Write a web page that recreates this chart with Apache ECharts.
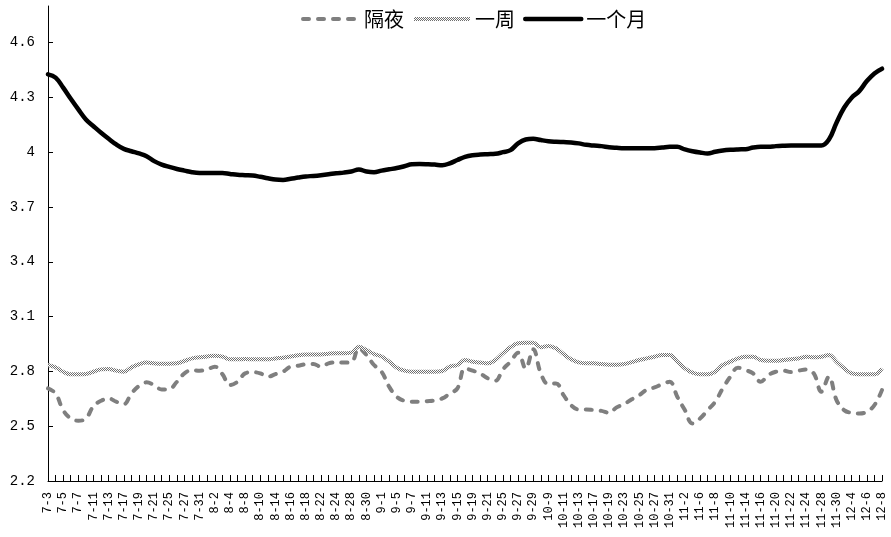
<!DOCTYPE html>
<html>
<head>
<meta charset="utf-8">
<script src="https://cdn.jsdelivr.net/npm/echarts@6/dist/echarts.min.js"></script>
<style>html,body{margin:0;padding:0;background:#fff}#c{width:891px;height:537px}</style>
</head>
<body>
<div id="c"></div>
<script>
const dates = [
 '7-3','7-4','7-5','7-6','7-7','7-10','7-11','7-12','7-13','7-14','7-17','7-18','7-19','7-20','7-21','7-24','7-25','7-26','7-27','7-28','7-31',
 '8-1','8-2','8-3','8-4','8-7','8-8','8-9','8-10','8-11','8-14','8-15','8-16','8-17','8-18','8-21','8-22','8-23','8-24','8-25','8-28','8-29','8-30','8-31',
 '9-1','9-4','9-5','9-6','9-7','9-8','9-11','9-12','9-13','9-14','9-15','9-18','9-19','9-20','9-21','9-22','9-25','9-26','9-27','9-28','9-29','9-30',
 '10-9','10-10','10-11','10-12','10-13','10-16','10-17','10-18','10-19','10-20','10-23','10-24','10-25','10-26','10-27','10-30','10-31',
 '11-1','11-2','11-3','11-6','11-7','11-8','11-9','11-10','11-13','11-14','11-15','11-16','11-17','11-20','11-21','11-22','11-23','11-24','11-27','11-28','11-29','11-30',
 '12-1','12-4','12-5','12-6','12-7','12-8'
];
const overnight = [
 2.707,2.679,2.588,2.542,2.530,2.542,2.610,2.639,2.652,2.634,
 2.621,2.679,2.720,2.740,2.725,2.701,2.703,2.743,2.789,2.807,
 2.804,2.811,2.826,2.785,2.725,2.743,2.789,2.796,2.789,2.771,
 2.785,2.798,2.826,2.831,2.839,2.840,2.826,2.844,2.850,2.848,
 2.850,2.926,2.890,2.835,2.798,2.716,2.661,2.639,2.634,2.634,
 2.637,2.641,2.652,2.679,2.707,2.816,2.804,2.789,2.762,2.749,
 2.811,2.853,2.902,2.816,2.921,2.789,2.730,2.734,2.670,2.615,
 2.592,2.592,2.588,2.584,2.573,2.603,2.621,2.647,2.670,2.701,
 2.712,2.730,2.743,2.661,2.588,2.515,2.542,2.588,2.634,2.707,
 2.771,2.820,2.807,2.789,2.743,2.780,2.798,2.804,2.796,2.804,
 2.811,2.789,2.689,2.771,2.643,2.588,2.573,2.570,2.579,2.615,2.698
];
const oneWeek = [
 2.835,2.822,2.798,2.784,2.784,2.786,2.798,2.811,2.813,2.804,
 2.798,2.822,2.839,2.848,2.844,2.842,2.842,2.844,2.857,2.871,
 2.877,2.882,2.886,2.881,2.866,2.866,2.868,2.866,2.866,2.866,
 2.871,2.875,2.881,2.888,2.892,2.893,2.893,2.897,2.899,2.899,
 2.903,2.935,2.917,2.895,2.881,2.853,2.820,2.804,2.798,2.798,
 2.798,2.798,2.802,2.826,2.835,2.862,2.853,2.849,2.844,2.862,
 2.899,2.932,2.954,2.957,2.957,2.932,2.939,2.926,2.895,2.866,
 2.849,2.844,2.844,2.840,2.837,2.837,2.840,2.851,2.862,2.871,
 2.880,2.890,2.890,2.853,2.817,2.793,2.784,2.784,2.798,2.835,
 2.853,2.871,2.880,2.880,2.862,2.858,2.858,2.862,2.866,2.871,
 2.880,2.877,2.880,2.890,2.853,2.817,2.789,2.784,2.784,2.784,2.817
];
const oneMonth = [
 4.426,4.408,4.353,4.292,4.234,4.179,4.142,4.106,4.073,4.042,
 4.018,4.005,3.993,3.978,3.951,3.932,3.919,3.908,3.899,3.890,
 3.886,3.886,3.886,3.886,3.881,3.876,3.874,3.872,3.865,3.857,
 3.850,3.848,3.854,3.861,3.867,3.870,3.874,3.879,3.885,3.888,
 3.894,3.905,3.894,3.890,3.899,3.906,3.913,3.923,3.934,3.935,
 3.934,3.932,3.928,3.939,3.957,3.974,3.983,3.987,3.989,3.991,
 4.000,4.011,4.048,4.069,4.073,4.066,4.060,4.057,4.055,4.053,
 4.048,4.040,4.036,4.033,4.027,4.024,4.022,4.022,4.022,4.022,
 4.022,4.025,4.029,4.029,4.015,4.005,3.998,3.993,4.002,4.009,
 4.013,4.015,4.016,4.025,4.029,4.029,4.033,4.035,4.036,4.036,
 4.036,4.036,4.036,4.069,4.161,4.243,4.298,4.334,4.389,4.431,4.457
];
const seriesNames = ['隔夜','一周','一个月'];

const pc = document.createElement('canvas');
pc.width = 2; pc.height = 2;
const px = pc.getContext('2d');
px.fillStyle = '#ffffff'; px.fillRect(0,0,2,2);
px.fillStyle = '#6e6e6e'; px.fillRect(0,0,1,1); px.fillRect(1,1,1,1);
const hatch = {image: pc, repeat: 'repeat'};

const styles = [
  {color: '#7f7f7f', width: 4, type: [6, 9], cap: 'round'},
  {color: hatch, width: 4, type: 'solid', cap: 'butt'},
  {color: '#000', width: 4.5, type: 'solid', cap: 'round'}
];

const chart = echarts.init(document.getElementById('c'), null, {renderer: 'canvas'});
chart.setOption({
  animation: false,
  backgroundColor: '#fff',
  grid: {left: 48, right: 9, top: 6, bottom: 56, containLabel: false},
  legend: {
    left: 296, top: 4,
    itemWidth: 56, itemHeight: 14, itemGap: 8,
    textStyle: {fontFamily: 'Noto Sans CJK SC', fontSize: 20, color: '#000'},
    data: seriesNames.map((n, i) => ({
      name: n,
      itemStyle: {opacity: 0},
      lineStyle: Object.assign({}, styles[i])
    }))
  },
  xAxis: {
    type: 'category', data: dates, boundaryGap: false,
    axisLine: {lineStyle: {color: '#000', width: 1}},
    axisTick: {inside: true, length: 6, interval: 0, lineStyle: {color: '#000'}},
    axisLabel: {interval: 1, rotate: 90, margin: 11, fontFamily: 'Liberation Mono', fontSize: 12, color: '#000'},
    splitLine: {show: false}
  },
  yAxis: {
    type: 'value', min: 2.2, max: 4.8, interval: 0.3,
    axisLine: {show: true, lineStyle: {color: '#000', width: 1}},
    axisTick: {show: true, inside: true, length: 5, lineStyle: {color: '#000'}},
    axisLabel: {showMaxLabel: false, margin: 13, fontFamily: 'Liberation Mono', fontSize: 14, color: '#000',
      formatter: v => String(+(+v).toFixed(1))},
    splitLine: {show: false}
  },
  series: [
    {name: seriesNames[0], type: 'line', data: overnight, smooth: 0.4, symbol: 'none',
     lineStyle: styles[0], itemStyle: {color: '#7f7f7f'}},
    {name: seriesNames[1], type: 'line', data: oneWeek, smooth: 0.4, symbol: 'none',
     lineStyle: styles[1], itemStyle: {color: '#a0a0a0'}},
    {name: seriesNames[2], type: 'line', data: oneMonth, smooth: 0.4, symbol: 'none',
     lineStyle: styles[2], itemStyle: {color: '#000'}}
  ]
});
</script>
</body>
</html>
